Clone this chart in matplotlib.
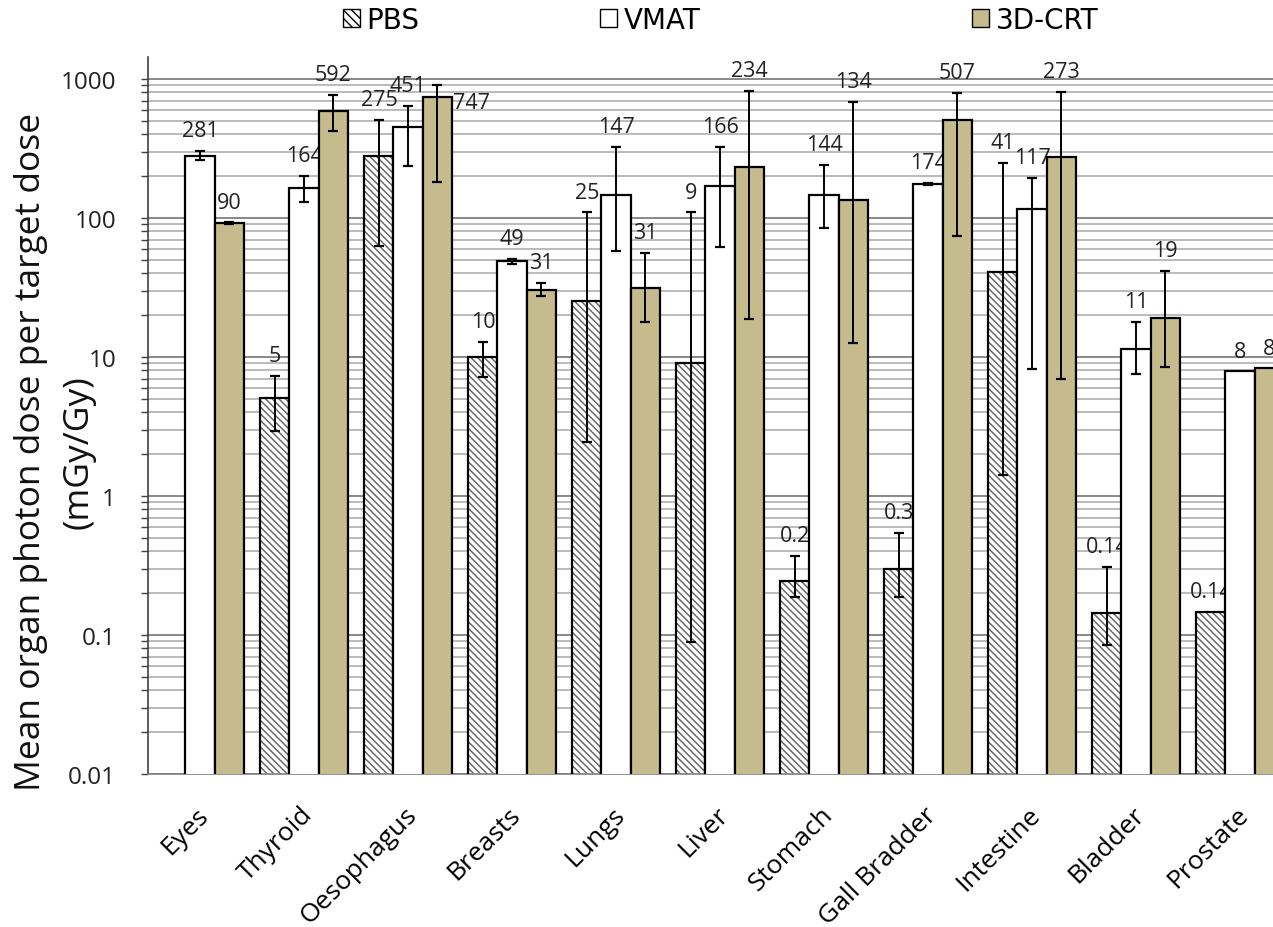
import numpy as np
import matplotlib
matplotlib.use('Agg')
import matplotlib.pyplot as plt
from matplotlib.patches import Patch
from matplotlib.ticker import LogLocator, NullFormatter, FixedLocator
import matplotlib.transforms as mtransforms

plt.rcParams['font.family'] = ['Open Sans', 'DejaVu Sans']

# organ dose data (mGy/Gy)
organs = ['Eyes', 'Thyroid', 'Oesophagus', 'Breasts', 'Lungs', 'Liver', 'Stomach',
          'Gall Bradder', 'Intestine', 'Bladder', 'Prostate']
nan = np.nan

pbs = [nan, 5.1, 279, 10, 25.3, 9.05, 0.244, 0.30, 40.9, 0.144, 0.147]
vmat = [279, 164, 451, 49, 146, 170, 146, 176, 116, 11.4, 7.9]
crt = [92, 589, 743, 30.3, 31.3, 233, 134.7, 507, 275, 19.1, 8.3]

# error bar ends (low / high)
pbs_lo = [nan, 2.94, 63, 7.2, 2.44, 0.089, 0.188, 0.188, 1.42, 0.085, nan]
pbs_hi = [nan, 7.3, 507, 12.8, 110, 110, 0.37, 0.54, 249, 0.31, nan]
vmat_lo = [261, 130, 237, 47, 58, 62, 85, 172, 8.2, 7.5, nan]
vmat_hi = [303, 200, 639, 51, 324, 324, 240, 180, 194, 17.9, nan]
crt_lo = [91, 423, 181, 27.5, 17.9, 18.8, 12.6, 74, 6.95, 8.5, nan]
crt_hi = [93, 767, 905, 34, 56, 820, 684, 793, 806, 41.6, nan]

pbs_labels = ['', '5', '275', '10', '25', '9', '0.2', '0.3', '41', '0.14', '0.14']
vmat_labels = ['281', '164', '451', '49', '147', '166', '144', '174', '117', '11', '8']
crt_labels = ['90', '592', '747', '31', '31', '234', '134', '507', '273', '19', '8']

khaki = '#c5bb8d'
W, H = 1273, 928
fig = plt.figure(figsize=(W / 100, H / 100), dpi=100)
ax = fig.add_axes([148 / W, 153 / H, 1144 / W, 717 / H])

x = np.arange(len(organs))
bw = 0.28


def draw_series(xs, vals, lo, hi, labels, face, hatch=None, label_right=None):
    vals = np.array(vals, dtype=float)
    lo = np.array(lo, dtype=float)
    hi = np.array(hi, dtype=float)
    if hatch:
        ax.bar(xs, vals, bw, color='white', edgecolor='#606060', hatch=hatch,
               linewidth=0, zorder=2)
        ax.bar(xs, vals, bw, fill=False, edgecolor='black', linewidth=1.6, zorder=3)
    else:
        ax.bar(xs, vals, bw, color=face, edgecolor='black', linewidth=1.6, zorder=3)
    ok = ~np.isnan(lo)
    ax.errorbar(xs[ok], vals[ok], yerr=[vals[ok] - lo[ok], hi[ok] - vals[ok]],
                fmt='none', ecolor='black', elinewidth=1.4, capsize=3.5,
                capthick=1.6, zorder=4)
    for i, (xi, v, t) in enumerate(zip(xs, vals, labels)):
        if not t:
            continue
        if label_right is not None and i == label_right:
            ax.annotate(t, (xi + bw / 2, v), xytext=(1, -4), textcoords='offset points',
                        ha='left', va='center', fontsize=15.5, color='#222222')
            continue
        top = hi[i] if not np.isnan(hi[i]) else v
        ax.annotate(t, (xi, top), xytext=(0, 7), textcoords='offset points',
                    ha='center', va='bottom', fontsize=15.5, color='#222222')


draw_series(x - bw, pbs, pbs_lo, pbs_hi, pbs_labels, 'white', hatch='\\\\\\\\\\')
draw_series(x, vmat, vmat_lo, vmat_hi, vmat_labels, 'white')
draw_series(x + bw, crt, crt_lo, crt_hi, crt_labels, khaki, label_right=2)

ax.set_yscale('log')
ax.set_ylim(0.01, 10 ** (3 + 22 / 139))
ax.set_xlim(-0.5, 10.5)
ax.yaxis.set_major_locator(FixedLocator([0.01, 0.1, 1, 10, 100, 1000]))
ax.set_yticklabels(['0.01', '0.1', '1', '10', '100', '1000'])
ax.yaxis.set_minor_locator(LogLocator(base=10, subs=np.arange(2, 10)))
ax.yaxis.set_minor_formatter(NullFormatter())
ax.grid(True, which='major', axis='y', color='#7f7f7f', linewidth=1.3)
ax.grid(True, which='minor', axis='y', color='#a8a8a8', linewidth=1.1)
ax.set_axisbelow(True)

ax.tick_params(axis='y', which='both', direction='out', length=5, width=1,
               color='#404040', labelsize=17.5, pad=18, labelcolor='#222222')
ax.tick_params(axis='x', length=0, labelsize=19, pad=20)
for s in ['top', 'right']:
    ax.spines[s].set_visible(False)
ax.spines['left'].set_color('#404040')
ax.spines['bottom'].set_color('#808080')
ax.spines['left'].set_linewidth(1.2)
ax.spines['bottom'].set_linewidth(1.2)

ax.set_xticks(x)
ax.set_xticklabels(organs, rotation=45, ha='right', va='top', rotation_mode='anchor')
shift = mtransforms.ScaledTranslation(-4 / 100, 0, fig.dpi_scale_trans)
for lbl in ax.get_xticklabels():
    lbl.set_transform(lbl.get_transform() + shift)

fig.text(31 / W, 1 - 452 / H, 'Mean organ photon dose per target dose',
         rotation=90, ha='center', va='center', fontsize=25.5, color='#111111')
fig.text(79 / W, 1 - 452 / H, '(mGy/Gy)',
         rotation=90, ha='center', va='center', fontsize=25.5, color='#111111')

# legend entries spread along the top like the original
entries = [('PBS', Patch(facecolor='white', edgecolor='black', hatch='\\\\\\\\'), 343),
           ('VMAT', Patch(facecolor='white', edgecolor='black'), 600),
           ('3D-CRT', Patch(facecolor=khaki, edgecolor='black'), 972)]
for name, handle, px in entries:
    fig.legend(handles=[handle], labels=[name], loc='center left',
               bbox_to_anchor=(px / W, 1 - 21 / H), frameon=False, borderpad=0,
               borderaxespad=0, handlelength=0.6, handleheight=0.6,
               handletextpad=0.25,
               prop={'family': ['Liberation Sans Narrow', 'DejaVu Sans'], 'size': 20})

fig.savefig('out.png', dpi=100)
